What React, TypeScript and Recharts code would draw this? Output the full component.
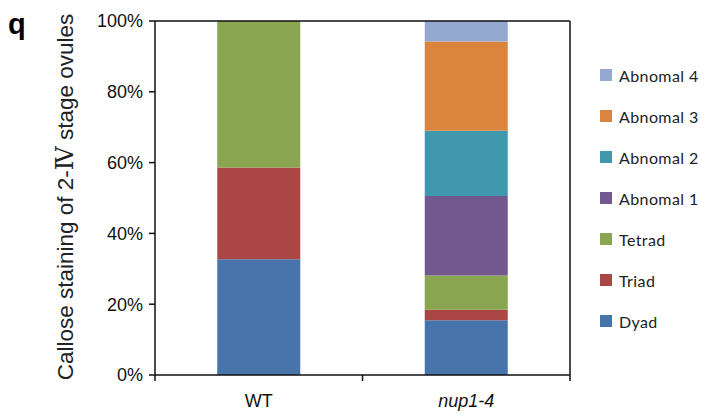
import { Bar, BarChart, ReferenceLine, XAxis, YAxis } from "recharts";

const groups = ["WT", "nup1-4"];
const dyad = [32.7, 15.5];
const triad = [25.9, 2.9];
const tetrad = [41.4, 9.7];
const abnomal1 = [0, 22.5];
const abnomal2 = [0, 18.4];
const abnomal3 = [0, 25.2];
const abnomal4 = [0, 5.8];
const yTicks = [0, 20, 40, 60, 80, 100];

const series = [
  { key: "dyad", name: "Dyad", values: dyad, color: "#4674ab" },
  { key: "triad", name: "Triad", values: triad, color: "#aa4644" },
  { key: "tetrad", name: "Tetrad", values: tetrad, color: "#8aa54f" },
  { key: "ab1", name: "Abnomal 1", values: abnomal1, color: "#71588f" },
  { key: "ab2", name: "Abnomal 2", values: abnomal2, color: "#4098ae" },
  { key: "ab3", name: "Abnomal 3", values: abnomal3, color: "#db843d" },
  { key: "ab4", name: "Abnomal 4", values: abnomal4, color: "#93a9cf" },
];

const data = groups.map((g, i) => {
  const row: Record<string, string | number> = { group: g };
  series.forEach((s) => (row[s.key] = s.values[i]));
  return row;
});

const axisFont = "'Liberation Sans', Arial, sans-serif";
const ink = "#111";

// category label plus tick marks on the band edges (Excel style)
function GroupTick({ x, y, payload, index }: any) {
  const v = payload.value as string;
  const half = payload.offset ?? 0;
  return (
    <g>
      {index === 0 && (
        <line x1={x - half} x2={x - half} y1={y} y2={y + 6} stroke={ink} strokeWidth={1.5} />
      )}
      <line x1={x + half} x2={x + half} y1={y} y2={y + 6} stroke={ink} strokeWidth={1.5} />
      <text
        x={x}
        y={y + 32}
        textAnchor="middle"
        fontSize={18}
        fontFamily={axisFont}
        fontStyle={v === "WT" ? "normal" : "italic"}
        fill={ink}
      >
        {v}
      </text>
    </g>
  );
}

export default function App() {
  const legend = [...series].reverse();
  return (
    <div style={{ position: "absolute", left: 0, top: 0, width: 712, height: 416, background: "#fff" }}>
      <BarChart
        width={712}
        height={416}
        data={data}
        margin={{ top: 21, right: 142, left: 95, bottom: 0 }}
        barCategoryGap="30%"
      >
        <XAxis
          dataKey="group"
          height={41}
          axisLine={{ stroke: ink, strokeWidth: 1.5 }}
          tickLine={false}
          tickSize={0}
          tickMargin={0}
          tick={<GroupTick />}
          interval={0}
        />
        <YAxis
          width={60}
          domain={[0, 100]}
          ticks={yTicks}
          interval={0}
          tickFormatter={(v: number) => `${v}%`}
          tick={{ fontSize: 18, fill: ink, fontFamily: axisFont }}
          tickSize={6}
          tickMargin={6}
          axisLine={{ stroke: ink, strokeWidth: 1.5 }}
          tickLine={{ stroke: ink, strokeWidth: 1.5 }}
        />
        {series.map((s) => (
          <Bar
            key={s.key}
            dataKey={s.key}
            name={s.name}
            stackId="a"
            fill={s.color}
            isAnimationActive={false}
          />
        ))}
        <ReferenceLine y={100} stroke={ink} strokeWidth={1.5} />
        <ReferenceLine x={groups[groups.length - 1]} position="end" stroke={ink} strokeWidth={1.5} />
      </BarChart>

      <div
        style={{
          position: "absolute",
          left: 8,
          top: 10,
          fontFamily: axisFont,
          fontWeight: "bold",
          fontSize: 29,
          lineHeight: "29px",
          color: "#000",
        }}
      >
        q
      </div>

      <div
        style={{
          position: "absolute",
          left: 65,
          top: 197,
          transform: "translate(-50%, -50%) rotate(-90deg)",
          whiteSpace: "nowrap",
          fontFamily: axisFont,
          fontSize: 22.5,
          color: "#222",
        }}
      >
        Callose staining of 2-
        <span style={{ fontFamily: "'Liberation Serif', 'DejaVu Serif', serif", fontSize: 24 }}>Ⅳ</span>
        {" "}stage ovules
      </div>

      {legend.map((s, i) => (
        <div
          key={s.key}
          style={{
            position: "absolute",
            left: 600,
            top: 65 + i * 41,
            height: 20,
            display: "flex",
            alignItems: "center",
            fontFamily: "Lato, sans-serif",
            fontSize: 16,
            letterSpacing: 0.4,
            color: "#222",
          }}
        >
          <span style={{ width: 12, height: 12, background: s.color, marginRight: 7 }} />
          {s.name}
        </div>
      ))}
    </div>
  );
}
